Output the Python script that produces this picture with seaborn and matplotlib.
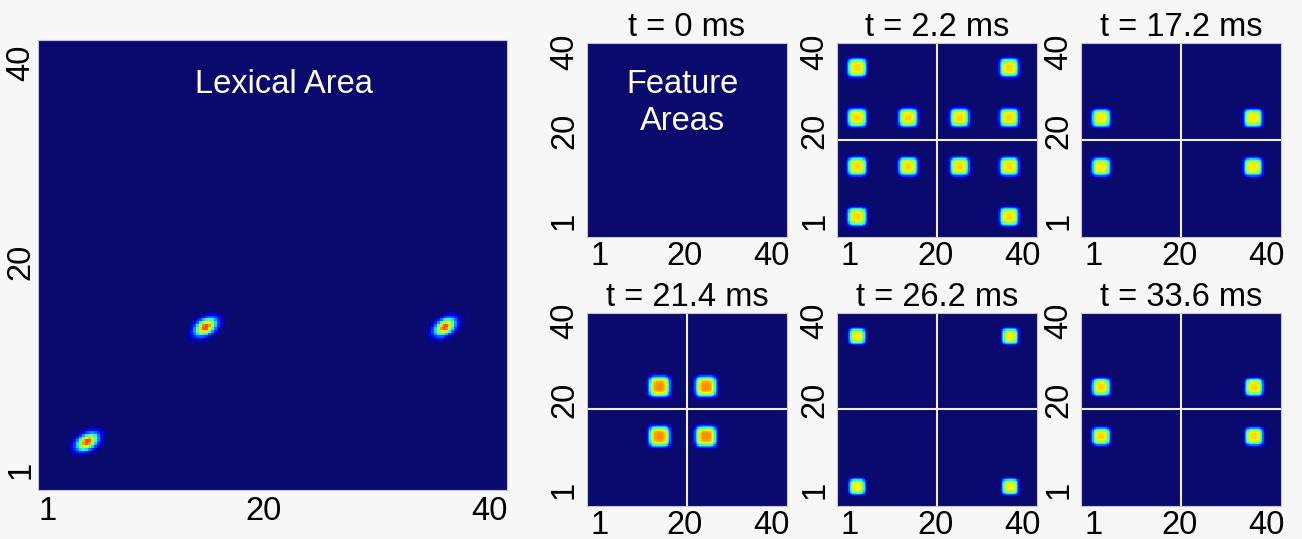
import numpy as np
import pandas as pd
import matplotlib
matplotlib.use("Agg")
import matplotlib.pyplot as plt
from matplotlib.colors import ListedColormap
import seaborn as sns

# ---------------- data ----------------
GRID = 40          # neurons per side in every area
FINE = 4           # sub-samples per neuron for smooth rendering

# Lexical area: centres of the three active word units (grid coords, 0..40)
lex_x = [4.2, 14.3, 34.7]
lex_y = [4.3, 14.5, 14.5]
lex_peak = [0.86, 0.86, 0.86]

# Feature areas at six time instants
titles = ["t = 0 ms", "t = 2.2 ms", "t = 17.2 ms",
          "t = 21.4 ms", "t = 26.2 ms", "t = 33.6 ms"]
feat_x = [
    [],
    [4.0, 34.4, 4.0, 14.2, 24.5, 34.4, 4.0, 14.2, 24.5, 34.4, 4.0, 34.4],
    [4.0, 34.4, 4.0, 34.4],
    [14.5, 23.8, 14.5, 23.8],
    [4.0, 34.6, 4.0, 34.6],
    [4.0, 34.6, 4.0, 34.6],
]
feat_y = [
    [],
    [35.0, 35.0, 24.7, 24.7, 24.7, 24.7, 14.6, 14.6, 14.6, 14.6, 4.2, 4.2],
    [24.6, 24.6, 14.5, 14.5],
    [24.7, 24.7, 14.4, 14.4],
    [35.1, 35.1, 4.0, 4.0],
    [24.6, 24.6, 14.4, 14.4],
]
feat_peak = [0.0, 0.68, 0.66, 0.76, 0.65, 0.68]
feat_size = [1.8, 1.85, 1.8, 2.05, 1.6, 1.75]
show_quadrants = [False, True, True, True, True, True]

tick_labels = ["1", "20", "40"]
# ----------------------------------------------------------------

plt.rcParams["font.family"] = ["Liberation Sans", "DejaVu Sans"]
FS = 23.5

# jet with a slightly muted navy floor, as in the reference
base = plt.get_cmap("jet")(np.linspace(0, 1, 256))
floor = np.array([0.04, 0.04, 0.43, 1.0])
wgt = np.clip(1 - np.linspace(0, 1, 256) / 0.08, 0, 1)[:, None]
cmap = ListedColormap(base * (1 - wgt) + floor * wgt)

n = GRID * FINE
c = (np.arange(n) + 0.5) / FINE
X, Y = np.meshgrid(c, c)


def lexical_field():
    Z = np.zeros((n, n))
    th = np.deg2rad(35)
    for x0, y0, a in zip(lex_x, lex_y, lex_peak):
        dx, dy = X - x0, Y - y0
        u = dx * np.cos(th) + dy * np.sin(th)
        v = -dx * np.sin(th) + dy * np.cos(th)
        Z = np.maximum(Z, a * np.exp(-(u / 0.98) ** 2 - (v / 0.62) ** 2))
    return pd.DataFrame(Z[::-1])


def feature_field(xs, ys, a, s):
    Z = np.zeros((n, n))
    for x0, y0 in zip(xs, ys):
        r = (np.abs(X - x0) / s) ** 4 + (np.abs(Y - y0) / s) ** 4
        Z = np.maximum(Z, a * np.exp(-r))
    return pd.DataFrame(Z[::-1])


def style_axes(ax, xt, yt, xpad, ypad):
    for sp in ax.spines.values():
        sp.set_visible(True)
        sp.set_color("#c4c4cc")
        sp.set_linewidth(0.8)
    ax.set_xticks([v * FINE for v in xt])
    ax.set_xticklabels(tick_labels, rotation=0, fontsize=FS)
    ax.set_yticks([(GRID - v) * FINE for v in yt])
    ax.set_yticklabels(tick_labels, rotation=90, va="center", fontsize=FS)
    ax.tick_params(axis="x", length=0, pad=xpad)
    ax.tick_params(axis="y", length=0, pad=ypad)
    ax.set_xlabel("")
    ax.set_ylabel("")


fig = plt.figure(figsize=(13.02, 5.39), dpi=100, facecolor="#f7f7f7")

# big lexical panel
ax_big = fig.add_axes([0.0292, 0.0909, 0.3602, 0.8349])
sns.heatmap(lexical_field(), ax=ax_big, cmap=cmap, vmin=0, vmax=1,
            cbar=False, xticklabels=False, yticklabels=False)
style_axes(ax_big, [0.85, 19.2, 38.5], [1.8, 20.3, 38.0], 4, 1)
ax_big.text(21.0 * FINE, (GRID - 36.0) * FINE, "Lexical Area", color="white",
            ha="center", va="center", fontsize=FS)

lefts = [0.4508, 0.6429, 0.8303]
bottoms = [0.5603, 0.0612]
w, h = 0.1536, 0.359

for i in range(6):
    r, col = divmod(i, 3)
    ax = fig.add_axes([lefts[col], bottoms[r], w, h])
    sns.heatmap(feature_field(feat_x[i], feat_y[i], feat_peak[i], feat_size[i]),
                ax=ax, cmap=cmap, vmin=0, vmax=1, cbar=False,
                xticklabels=False, yticklabels=False)
    style_axes(ax, [2.5, 19.6, 37.0], [3.4, 22.0, 38.3], 3, 5)
    ax.set_title(titles[i], fontsize=FS, pad=1)
    if show_quadrants[i]:
        ax.axvline(GRID / 2 * FINE, color="#f0f0f0", lw=1.5)
        ax.axhline(GRID / 2 * FINE, color="#f0f0f0", lw=1.5)
    if i == 0:
        ax.text(19.2 * FINE, 12.4 * FINE, "Feature\nAreas", color="white",
                ha="center", va="center", fontsize=FS, linespacing=1.25)

fig.savefig("out.png", dpi=100, facecolor=fig.get_facecolor())
